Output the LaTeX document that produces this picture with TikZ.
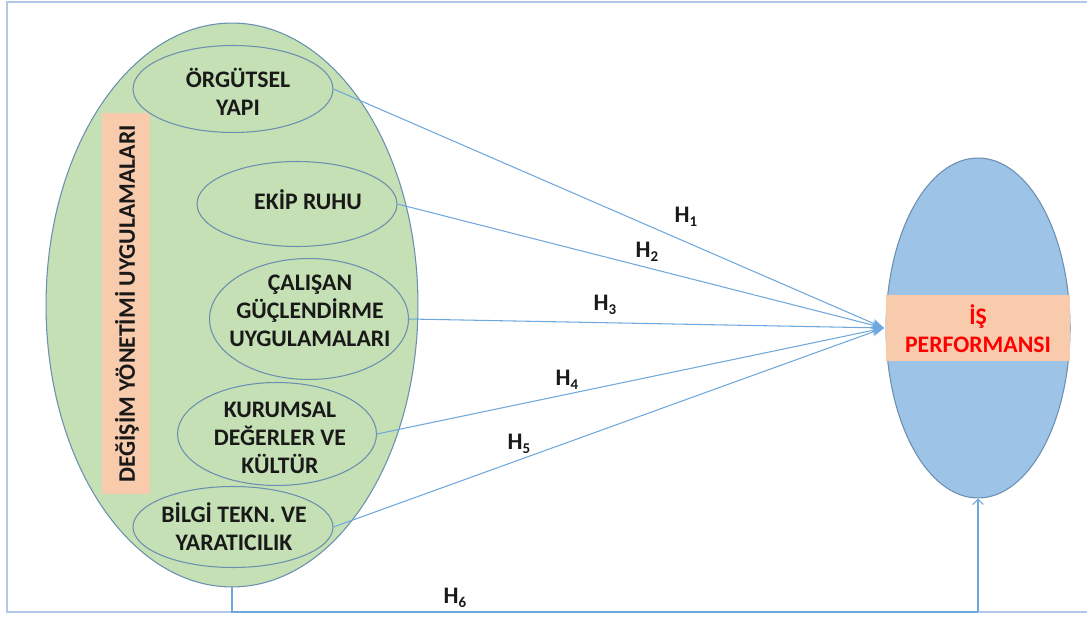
\documentclass[tikz,border=0pt]{standalone}
\usepackage{fontspec}
\setmainfont{Carlito}
\usetikzlibrary{shapes.geometric,arrows.meta}
\definecolor{framec}{HTML}{B4C7E7}
\definecolor{linec}{HTML}{6FA8DC}
\definecolor{greenf}{HTML}{C5E0B4}
\definecolor{bluef}{HTML}{9DC3E6}
\definecolor{peach}{HTML}{F8CBAD}
\definecolor{edgec}{HTML}{6A8FB0}
\tikzset{
  lbl/.style={font=\fontsize{13.5}{16}\selectfont\bfseries, align=center, text=black!90, inner sep=0pt},
  sub/.style={ellipse, draw=edgec, line width=0.6pt, fill=greenf, inner sep=0pt},
  conn/.style={draw=linec, line width=0.6pt},
  hyp/.style={font=\fontsize{13.5}{15}\selectfont\bfseries, text=black!90, inner sep=0pt}
}
\newcommand{\hs}[1]{H\raisebox{-0.3ex}{\fontsize{8.5}{8.5}\selectfont #1}}
\begin{document}
\begin{tikzpicture}[x=0.02cm,y=-0.02cm]
\useasboundingbox (0,0) rectangle (1087,617);
% frame
\draw[framec, line width=1.6pt] (1090,2) -- (7,2) -- (7,612) -- (1090,612);
% big ellipse
\node[ellipse, draw=edgec, line width=0.6pt, fill=greenf, minimum width=7.44cm, minimum height=11.28cm, inner sep=0pt] (big) at (232,305) {};
% vertical band
\node[fill=peach, minimum width=0.96cm, minimum height=7.62cm, inner sep=0pt] (vband) at (126,303.5) {};
\node[lbl, rotate=90] (vtext) at (127,304) {DEĞİŞİM YÖNETİMİ UYGULAMALARI};
% sub ellipses
\node[sub, minimum width=4cm, minimum height=1.74cm] (o1) at (233,89) {};
\node[sub, minimum width=4cm, minimum height=1.70cm] (o2) at (297,204) {};
\node[sub, minimum width=3.98cm, minimum height=2.42cm] (o3) at (309,319) {};
\node[sub, minimum width=3.98cm, minimum height=2.06cm] (o4) at (277,434) {};
\node[sub, minimum width=4cm, minimum height=1.62cm] (o5) at (233,527) {};
\node[lbl] (t1) at (238,92) {ÖRGÜTSEL\\YAPI};
\node[lbl] (t2) at (308,200) {EKİP RUHU};
\node[lbl] (t3) at (310,311) {ÇALIŞAN\\GÜÇLENDİRME\\UYGULAMALARI};
\node[lbl] (t4) at (280,438) {KURUMSAL\\DEĞERLER VE\\KÜLTÜR};
\node[lbl] (t5) at (234,527) {BİLGİ TEKN. VE\\YARATICILIK};
% right ellipse
\node[ellipse, draw=edgec, line width=0.6pt, fill=bluef, minimum width=3.68cm, minimum height=6.8cm, inner sep=0pt] (perf) at (978,328) {};
\node[fill=peach, minimum width=3.68cm, minimum height=1.32cm, inner sep=0pt] (band) at (978,328) {};
\node[lbl, text=red] (bandt) at (978,329) {İŞ\\PERFORMANSI};
% connectors
\coordinate (tip) at (884,328);
\foreach \n in {o1,o2,o3,o4,o5}{
  \draw[conn, -{Stealth[length=7pt,width=5pt]}] (\n.east) -- (tip);
}
\coordinate (c1) at (232,612);
\coordinate (c2) at (978,612);
\draw[conn] (big.south) -- (c1) -- (c2);
\draw[conn, -{Straight Barb[length=3pt,width=6pt]}] (c2) -- (perf.south);
% hypothesis labels
\node[hyp] (h1) at (686,217) {\hs{1}};
\node[hyp] (h2) at (647,252) {\hs{2}};
\node[hyp] (h3) at (605,305) {\hs{3}};
\node[hyp] (h4) at (567,380) {\hs{4}};
\node[hyp] (h5) at (519,444) {\hs{5}};
\node[hyp] (h6) at (455,598) {\hs{6}};
\end{tikzpicture}
\end{document}
